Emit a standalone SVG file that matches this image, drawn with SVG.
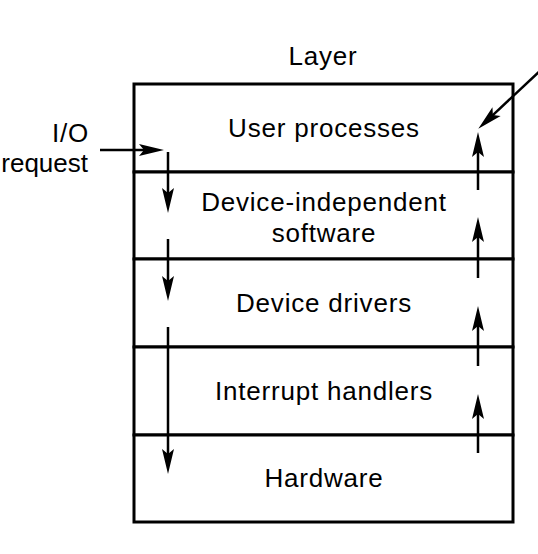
<svg xmlns="http://www.w3.org/2000/svg" width="538" height="554" viewBox="0 0 538 554">
<style>
text{font-family:"Liberation Sans",Arial,Helvetica,sans-serif;font-size:26px;fill:#000;letter-spacing:0.8px}
.c{text-anchor:middle}
.e{text-anchor:end}
.box{fill:#fff;stroke:#000;stroke-width:3}
.conn{stroke:#000;stroke-width:2.5;fill:none;marker-end:url(#ah)}
</style>
<defs>
<marker id="ah" markerUnits="userSpaceOnUse" markerWidth="30" markerHeight="14" viewBox="0 -7 26 14" refX="8" refY="0" orient="auto">
<path d="M0,-6 L25,0 L0,6 L5,0 z" fill="#000"/>
</marker>
</defs>
<rect width="538" height="554" fill="#fff"/>
<text class="c" x="323" y="65">Layer</text>
<text class="e" x="89" y="142">I/O</text>
<text class="e" x="88" y="172" style="letter-spacing:0">request</text>
<g id="user-processes"><rect class="box" x="134" y="84" width="379" height="88"/><text class="c" x="324" y="137">User processes</text></g>
<g id="device-independent"><rect class="box" x="134" y="172" width="379" height="87"/><text class="c" x="324" y="211">Device-independent</text><text class="c" x="324" y="242">software</text></g>
<g id="device-drivers"><rect class="box" x="134" y="259" width="379" height="88"/><text class="c" x="324" y="312">Device drivers</text></g>
<g id="interrupt-handlers"><rect class="box" x="134" y="347" width="379" height="88"/><text class="c" x="324" y="400">Interrupt handlers</text></g>
<g id="hardware"><rect class="box" x="134" y="435" width="379" height="87"/><text class="c" x="324" y="487">Hardware</text></g>
<g id="connectors">
<line class="conn" x1="100" y1="150" x2="147" y2="150"/>
<line class="conn" x1="168" y1="152" x2="168" y2="196"/>
<line class="conn" x1="168" y1="239" x2="168" y2="284"/>
<line class="conn" x1="168" y1="327" x2="168" y2="457"/>
<line class="conn" x1="478" y1="453" x2="478" y2="411"/>
<line class="conn" x1="478" y1="366" x2="478" y2="323"/>
<line class="conn" x1="478" y1="278" x2="478" y2="234"/>
<line class="conn" x1="478" y1="190" x2="478" y2="149"/>
<line class="conn" x1="541" y1="70" x2="490.7" y2="117.1"/>
</g>
</svg>
